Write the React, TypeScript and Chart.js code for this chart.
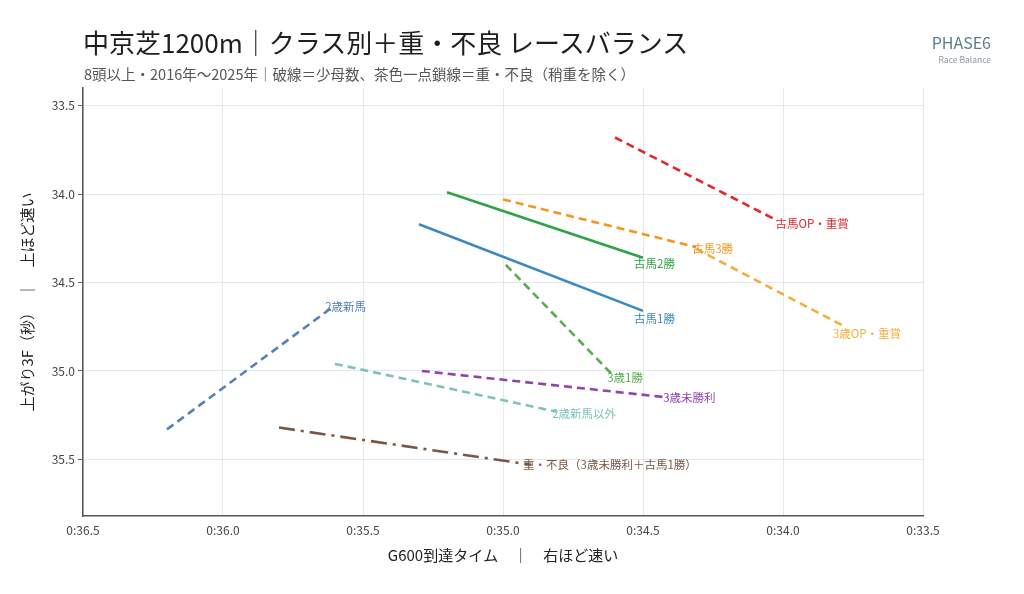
import { useEffect, useRef } from "react";
import { Chart, registerables } from "chart.js";

Chart.register(...registerables);

const FONT = '"Noto Sans CJK JP", "Noto Sans", sans-serif';

// クラス区分
const categories = [
  "2歳新馬",
  "2歳新馬以外",
  "3歳未勝利",
  "3歳1勝",
  "3歳OP・重賞",
  "古馬1勝",
  "古馬2勝",
  "古馬3勝",
  "古馬OP・重賞",
  "重・不良（3歳未勝利＋古馬1勝）",
];

// G600到達タイム（秒）: 始点 → 終点
const g600Start = [36.2, 35.6, 35.29, 34.99, 34.31, 35.3, 35.2, 35.0, 34.6, 35.8];
const g600End = [35.61, 34.81, 34.41, 34.61, 33.79, 34.5, 34.5, 34.31, 34.02, 34.9];

// 上がり3F（秒）: 始点 → 終点
const l3fStart = [35.33, 34.96, 35.0, 34.4, 34.31, 34.17, 33.99, 34.03, 33.68, 35.32];
const l3fEnd = [34.64, 35.23, 35.15, 35.02, 34.74, 34.66, 34.36, 34.3, 34.15, 35.53];

const xTicks = [36.5, 36.0, 35.5, 35.0, 34.5, 34.0, 33.5];
const yTicks = [33.5, 34.0, 34.5, 35.0, 35.5];

// 線の見た目とラベル位置のずれ
const DASH = [8, 5];
const DASH_DOT = [16, 6, 3, 6];
const seriesStyle = [
  { color: "#5482b6", dash: DASH, dx: -7, dy: -1 },
  { color: "#7cc3bb", dash: DASH, dx: -4, dy: 2 },
  { color: "#8e44ad", dash: DASH, dx: -5, dy: 0 },
  { color: "#5aab50", dash: DASH, dx: -5, dy: 3 },
  { color: "#f4ae3d", dash: DASH, dx: -9, dy: 9 },
  { color: "#3a88c4", dash: [], dx: -9, dy: 8 },
  { color: "#2ea24a", dash: [], dx: -9, dy: 6 },
  { color: "#f7941f", dash: DASH, dx: -4, dy: 1 },
  { color: "#e0282e", dash: DASH, dx: -2, dy: 3 },
  { color: "#7a5644", dash: DASH_DOT, dx: -8, dy: 0 },
];

const endLabels = {
  id: "endLabels",
  afterDatasetsDraw(chart: Chart) {
    const ctx = chart.ctx;
    ctx.save();
    ctx.font = `11.5px ${FONT}`;
    ctx.textAlign = "left";
    ctx.textBaseline = "middle";
    chart.data.datasets.forEach((ds, i) => {
      const meta = chart.getDatasetMeta(i);
      const pt = meta.data[meta.data.length - 1];
      if (!pt) return;
      const st = seriesStyle[i];
      ctx.fillStyle = st.color;
      ctx.fillText(String(ds.label), pt.x + st.dx, pt.y + st.dy);
    });
    ctx.restore();
  },
};

export default function App() {
  const canvasRef = useRef<HTMLCanvasElement>(null);
  const chartRef = useRef<Chart | null>(null);

  useEffect(() => {
    document.body.style.margin = "0";
    const canvas = canvasRef.current;
    if (!canvas) return;
    if (chartRef.current) chartRef.current.destroy();

    chartRef.current = new Chart(canvas, {
      type: "scatter",
      data: {
        datasets: categories.map((name, i) => ({
          label: name,
          data: [
            { x: g600Start[i], y: l3fStart[i] },
            { x: g600End[i], y: l3fEnd[i] },
          ],
          showLine: true,
          borderColor: seriesStyle[i].color,
          backgroundColor: seriesStyle[i].color,
          borderWidth: 2.6,
          borderDash: seriesStyle[i].dash,
          borderCapStyle: "butt",
          pointRadius: 0,
          fill: false,
        })),
      },
      options: {
        animation: false,
        responsive: false,
        layout: { padding: { top: 88, right: 101, left: 0, bottom: 0 } },
        plugins: {
          legend: { display: false },
          tooltip: { enabled: false },
        },
        scales: {
          x: {
            type: "linear",
            reverse: true,
            min: 33.5,
            max: 36.5,
            afterBuildTicks: (s: any) => {
              s.ticks = xTicks.map((v) => ({ value: v }));
            },
            afterFit: (s: any) => {
              s.height = 78;
            },
            ticks: {
              callback: (v: any) => `0:${Number(v).toFixed(1)}`,
              font: { family: FONT, size: 12 },
              color: "#444",
              padding: 3,
              maxRotation: 0,
              autoSkip: false,
            },
            grid: {
              color: "#e4e8ef",
              lineWidth: 1,
              tickLength: 4,
              tickColor: "rgba(0,0,0,0)",
            },
            border: { color: "#555", width: 1.5 },
            title: {
              display: true,
              text: "G600到達タイム　｜　右ほど速い",
              font: { family: FONT, size: 15 },
              color: "#222",
              padding: { top: 0, bottom: 30 },
            },
          },
          y: {
            type: "linear",
            reverse: true,
            min: 33.4,
            max: 35.82,
            afterBuildTicks: (s: any) => {
              s.ticks = yTicks.map((v) => ({ value: v }));
            },
            afterFit: (s: any) => {
              s.width = 83;
            },
            ticks: {
              callback: (v: any) => Number(v).toFixed(1),
              font: { family: FONT, size: 12 },
              color: "#444",
              padding: 3,
            },
            grid: {
              color: "#e4e8ef",
              lineWidth: 1,
              tickLength: 5,
              tickColor: "#666",
            },
            border: { color: "#555", width: 1.5 },
            title: {
              display: true,
              text: "上がり3F（秒）　｜　上ほど速い",
              font: { family: FONT, size: 15 },
              color: "#222",
              padding: { top: 18, bottom: 0 },
            },
          },
        },
      },
      plugins: [endLabels],
    });

    return () => {
      if (chartRef.current) {
        chartRef.current.destroy();
        chartRef.current = null;
      }
    };
  }, []);

  return (
    <div style={{ position: "relative", width: 1024, height: 594, background: "#fff", fontFamily: FONT }}>
      <canvas ref={canvasRef} width={1024} height={594} style={{ position: "absolute", left: 0, top: 0 }} />
      <div style={{ position: "absolute", left: 83, top: 29, fontSize: 26, lineHeight: 1, color: "#1e1e1e", whiteSpace: "nowrap" }}>
        中京芝1200m｜クラス別＋重・不良 レースバランス
      </div>
      <div style={{ position: "absolute", left: 84, top: 67, fontSize: 14.5, lineHeight: 1, color: "#555", whiteSpace: "nowrap" }}>
        8頭以上・2016年～2025年｜破線＝少母数、茶色一点鎖線＝重・不良（稍重を除く）
      </div>
      <div style={{ position: "absolute", right: 33, top: 34, fontSize: 16, lineHeight: 1, color: "#5b7b91", whiteSpace: "nowrap" }}>
        PHASE6
      </div>
      <div style={{ position: "absolute", right: 33, top: 55, fontSize: 8.5, lineHeight: 1, color: "#8797a5", whiteSpace: "nowrap" }}>
        Race Balance
      </div>
    </div>
  );
}
